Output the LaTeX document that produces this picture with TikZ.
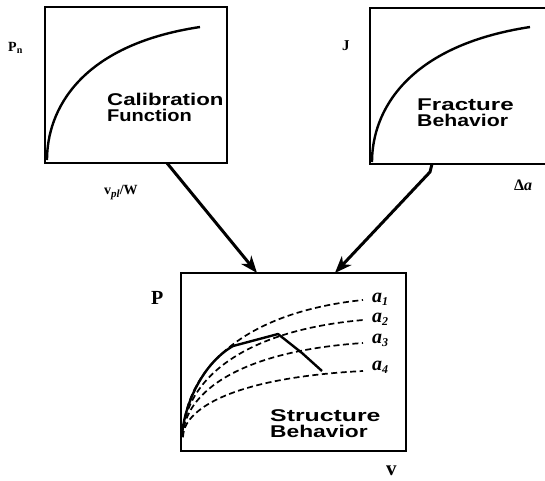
\documentclass[tikz,border=0pt]{standalone}
\usepackage{fontspec}
\usepackage{graphicx}
\setmainfont{Liberation Serif}
\newfontfamily\boxfont{Liberation Sans}
\usetikzlibrary{arrows.meta,calc}
\begin{document}
\begin{tikzpicture}[x=1pt,y=-1pt,
  panel/.style={draw,line width=2.6pt,inner sep=0pt,outer sep=0pt,anchor=north west},
  curve/.style={line width=2.4pt},
  dcurve/.style={line width=1.7pt,dash pattern=on 6pt off 3.5pt},
  feed/.style={line width=3pt,line join=round,-{Stealth[length=17pt,width=13pt,inset=5pt]}},
  title/.style={anchor=north west,inner sep=0pt,align=left,font=\boxfont\bfseries\fontsize{17}{16.5}\selectfont},
  axis/.style={anchor=base west,inner sep=0pt}]
\useasboundingbox (0,0) rectangle (545,480);

% panels
\node[panel,minimum width=182pt,minimum height=156pt] (cal) at (45,7) {};
\node[panel,minimum width=200pt,minimum height=156pt] (fra) at (370,8) {};
\node[panel,minimum width=225pt,minimum height=178pt] (str) at (181,273) {};

% curves in upper panels
\draw[curve] (47,160) .. controls (47,110) and (80,45) .. (200,27);
\draw[curve] (372,162) .. controls (372,112) and (406,46) .. (530,27);

% dashed curves in structure panel
\draw[dcurve] (183,437) .. controls (183,382) and (228,314) .. (363,300);
\draw[dcurve] (183,437) .. controls (183,390) and (228,332) .. (363,320);
\draw[dcurve] (183,437) .. controls (183,399) and (228,352) .. (363,343);
\draw[dcurve] (183,437) .. controls (183,411) and (228,378) .. (363,371);
% solid structure curve
\draw[curve,line join=round] (182,437) .. controls (183,410) and (200,365) .. (233,346) -- (278,334) -- (302,353) -- (322,371);

% titles
\node[title] (t1) at (107,92.5) {\scalebox{1.31}[1]{Calibration}\\\scalebox{1.18}[1]{Function}};
\node[title] (t2) at (417,98.5) {\scalebox{1.42}[1]{Fracture}\\\scalebox{1.25}[1]{Behavior}};
\node[title] (t3) at (270,409) {\scalebox{1.46}[1]{Structure}\\\scalebox{1.34}[1]{Behavior}};

% axis labels
\node[axis,font=\bfseries\fontsize{14}{14}\selectfont] (pn) at (8,51) {P\raisebox{-2pt}{\fontsize{10}{10}\selectfont n}};
\node[axis,font=\bfseries\fontsize{15}{15}\selectfont] (jl) at (342,50) {J};
\node[axis,font=\bfseries\fontsize{14}{14}\selectfont] (vw) at (104,194) {v\raisebox{-3pt}{\itshape\fontsize{11}{11}\selectfont pl}/W};
\node[axis,font=\bfseries\fontsize{16}{16}\selectfont] (da) at (514,190) {Δ\itshape a};
\node[axis,font=\bfseries\fontsize{20}{20}\selectfont] (pl) at (151,304) {P};
\node[axis,font=\bfseries\fontsize{21}{21}\selectfont] (vl) at (386,475) {v};
\node[axis,font=\bfseries\itshape\fontsize{20}{20}\selectfont] (a1) at (372,302) {a\raisebox{-3pt}{\fontsize{12}{12}\selectfont 1}};
\node[axis,font=\bfseries\itshape\fontsize{20}{20}\selectfont] (a2) at (372,322) {a\raisebox{-3pt}{\fontsize{12}{12}\selectfont 2}};
\node[axis,font=\bfseries\itshape\fontsize{20}{20}\selectfont] (a3) at (372,343) {a\raisebox{-3pt}{\fontsize{12}{12}\selectfont 3}};
\node[axis,font=\bfseries\itshape\fontsize{20}{20}\selectfont] (a4) at (372,370) {a\raisebox{-3pt}{\fontsize{12}{12}\selectfont 4}};

% connectors
\coordinate (kink) at (430,172);
\draw[feed] ($(cal.south west)!0.67!(cal.south east)$) -- ($(str.north west)!0.338!(str.north east)$);
\draw[feed] ([xshift=62pt]fra.south west) -- (kink) -- ($(str.north west)!0.684!(str.north east)$);
\end{tikzpicture}
\end{document}
